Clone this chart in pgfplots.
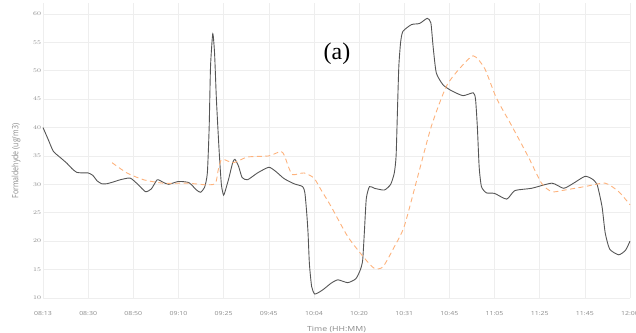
\documentclass[border=0pt]{standalone}
\usepackage{pgfplots}
\pgfplotsset{compat=1.18}
\usepackage{graphicx}
\usepackage{fontspec}
\setmainfont{Liberation Serif}
\newfontfamily\osans{Open Sans}
\definecolor{gridc}{HTML}{EEEEEE}
\definecolor{txtc}{HTML}{8A8A8A}
\definecolor{darkl}{HTML}{555555}
\definecolor{orl}{HTML}{FDB27C}
\newcommand{\tl}[1]{\scalebox{1}[0.8]{#1}}
\begin{document}
\begin{tikzpicture}
\path[use as bounding box] (-43bp,-35bp) rectangle (593bp,298bp);
\begin{axis}[
  at={(0,0)}, anchor=south west,
  scale only axis, width=587bp, height=295bp,
  xmin=0, xmax=13, ymin=10, ymax=61.9,
  axis line style={draw=none},
  major tick length=0pt,
  grid=major, grid style={gridc, line width=0.5bp},
  xtick={0,...,13},
  xticklabels={\tl{08:13},\tl{08:30},\tl{08:50},\tl{09:10},\tl{09:25},\tl{09:45},\tl{10:04},\tl{10:20},\tl{10:31},\tl{10:45},\tl{11:05},\tl{11:25},\tl{11:45},\tl{12:00}},
  ytick={10,15,...,60},
  yticklabel={\tl{\pgfmathprintnumber{\tick}}},
  tick label style={font=\osans\fontsize{7}{8}\selectfont, text=txtc},
  xticklabel style={yshift=-10bp},
  yticklabel style={xshift=1.5bp},
  every axis x label/.style={at={(axis description cs:0.5,-0.108)}, anchor=center},
  every axis y label/.style={at={(axis description cs:-0.046,0.464)}, rotate=90, anchor=center},
  xlabel={\scalebox{1}[0.8]{Time (HH:MM)}},
  ylabel={\scalebox{0.8}[1]{Formaldehyde (ug/m3)}},
  label style={font=\osans\fontsize{8.8}{10}\selectfont, text=txtc},
  clip=false,
]
\addplot[darkl, line width=0.9bp, smooth, tension=0.35] coordinates {
(0,40.0) (0.12,37.8) (0.23,35.8) (0.4,34.6) (0.53,33.7) (0.65,32.7) (0.75,32.1) (0.9,32.0) (1.0,32.0)
(1.1,31.6) (1.2,30.6) (1.3,30.1) (1.41,30.1) (1.55,30.4) (1.71,30.8) (1.93,31.1) (2.1,30.0) (2.27,28.7)
(2.4,29.2) (2.53,30.8) (2.65,30.4) (2.78,30.0) (3.0,30.5) (3.23,30.3) (3.4,29.0) (3.49,28.6) (3.58,29.5)
(3.64,32.0) (3.68,40) (3.71,50.7) (3.76,56.5) (3.8,53) (3.84,45) (3.9,36) (3.95,30) (4.0,28.1)
(4.06,29.5) (4.12,31.2) (4.2,33.8) (4.25,34.4) (4.33,33.2) (4.41,31.2) (4.53,30.8) (4.75,32.0) (5.0,33.0)
(5.15,32.3) (5.34,31.0) (5.56,30.1) (5.75,29.6) (5.8,28.5) (5.84,25) (5.87,21.4) (5.9,16) (5.95,12)
(6.02,10.7) (6.19,11.4) (6.38,12.6) (6.53,13.2) (6.75,12.7) (6.93,13.4) (7.03,15) (7.08,16.7) (7.12,22)
(7.16,27.5) (7.23,29.6) (7.34,29.3) (7.56,29.0) (7.7,30) (7.78,32) (7.82,35) (7.85,43) (7.88,50.7)
(7.92,55) (7.97,56.9) (8.16,58.1) (8.34,58.3) (8.51,59.2) (8.59,58.4) (8.64,54.2) (8.71,49.6) (8.86,47.5)
(9.04,46.5) (9.3,45.6) (9.53,46.1) (9.58,44.9) (9.62,40) (9.66,33) (9.71,29.6) (9.82,28.5) (10.0,28.4)
(10.27,27.4) (10.45,28.9) (10.82,29.3) (11.27,30.2) (11.53,29.3) (11.75,30.2) (12.0,31.4) (12.15,31.0)
(12.27,30.0) (12.38,26.1) (12.45,21.5) (12.55,18.6) (12.75,17.6) (12.9,18.4) (13.0,20.0)
};
\addplot[orl, line width=0.9bp, dash pattern=on 5bp off 3.5bp, smooth, tension=0.4] coordinates {
(1.53,33.8) (1.86,32.0) (2.23,30.8) (2.67,30.2) (3.19,30.2) (3.64,29.9) (3.82,30.2) (3.88,32.5) (3.94,34.2)
(4.0,34.4) (4.22,33.8) (4.53,34.8) (5.0,35.0) (5.27,35.8) (5.35,35) (5.43,33.2) (5.53,31.7) (5.78,32.0)
(6.0,31.1) (6.16,29.0) (6.38,26.1) (6.75,20.8) (7.12,17.0) (7.34,15.2) (7.53,15.5) (7.78,19.0) (8.0,22.6)
(8.3,31.4) (8.6,40.2) (8.93,47.2) (9.23,50.4) (9.53,52.6) (9.78,50.4) (10.04,45.2) (10.38,40.3) (10.75,34.8)
(11.04,30.2) (11.27,28.7) (11.56,29.0) (12.0,29.6) (12.45,30.2) (12.75,28.7) (13.0,26.4)
};
\node[font=\fontsize{24}{26}\selectfont] at (axis cs:6.51,52.96) {(a)};
\end{axis}
\end{tikzpicture}
\end{document}
